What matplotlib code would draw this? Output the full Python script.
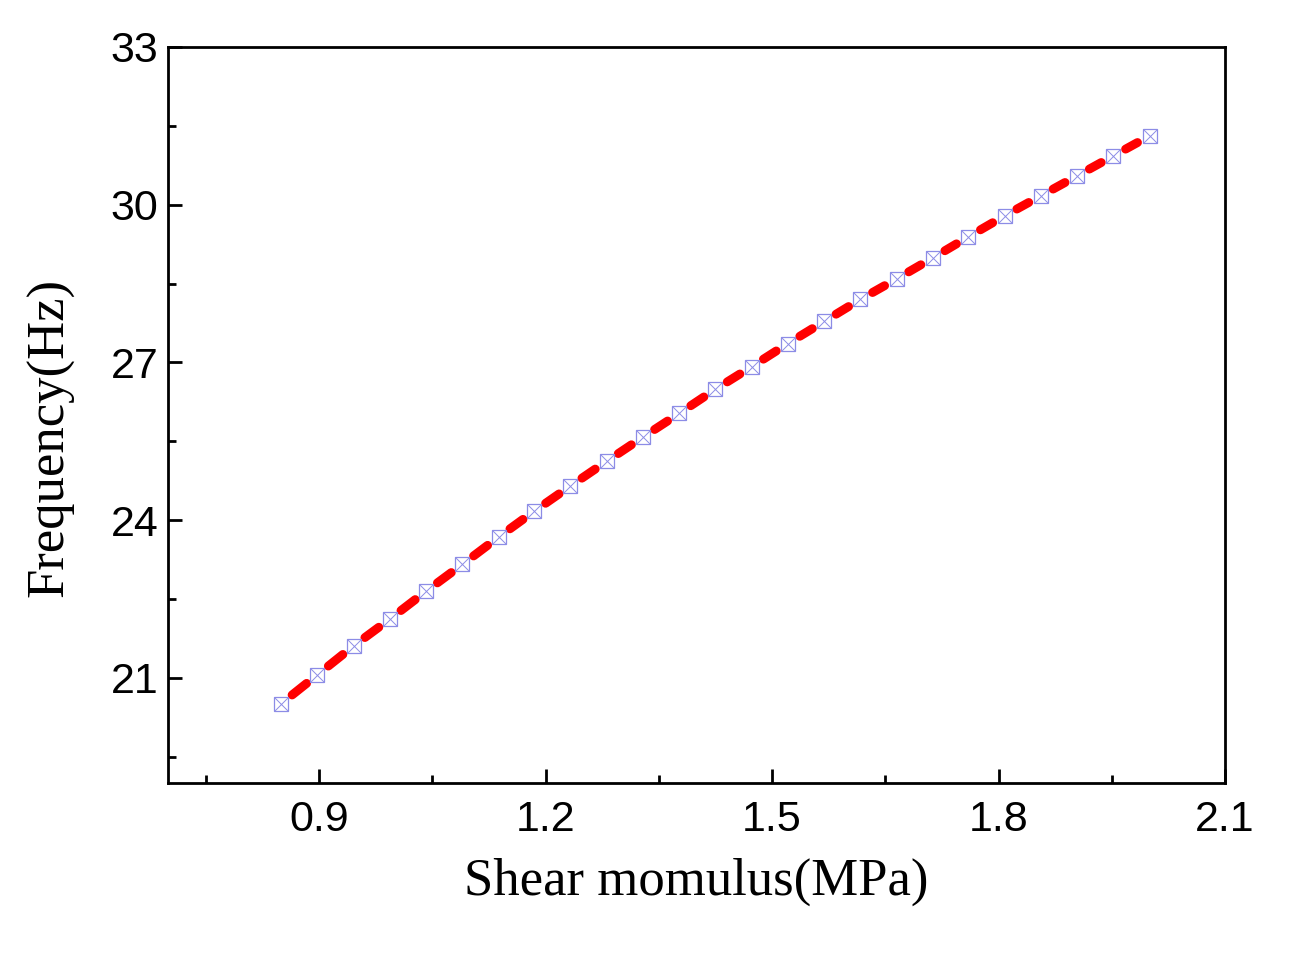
import matplotlib
matplotlib.use('Agg')
import matplotlib.pyplot as plt
from matplotlib.ticker import MultipleLocator

# data
shear_modulus = [0.850, 0.898, 0.946, 0.994, 1.042, 1.090, 1.138, 1.185, 1.233, 1.281,
                 1.329, 1.377, 1.425, 1.473, 1.521, 1.569, 1.617, 1.665, 1.713, 1.760,
                 1.808, 1.856, 1.904, 1.952, 2.000]
frequency = [20.51, 21.06, 21.61, 22.12, 22.65, 23.16, 23.68, 24.17, 24.65, 25.12,
             25.58, 26.03, 26.49, 26.92, 27.36, 27.78, 28.20, 28.59, 28.99, 29.39,
             29.79, 30.17, 30.55, 30.93, 31.31]

fig = plt.figure(figsize=(13.02, 9.71), dpi=100)
ax = fig.add_axes([0.129, 0.1936, 0.812, 0.758])

# red dashed line: one rounded segment between each pair of markers
for i in range(len(shear_modulus) - 1):
    ax.annotate('', xy=(shear_modulus[i + 1], frequency[i + 1]),
                xytext=(shear_modulus[i], frequency[i]),
                arrowprops=dict(arrowstyle='-', color='red', lw=6.4,
                                shrinkA=10, shrinkB=10, capstyle='round'))

mk_color = '#8c8ce6'
ax.plot(shear_modulus, frequency, ls='none', marker='s', ms=9.5, mfc='white',
        mec=mk_color, mew=0.9, zorder=3)
ax.plot(shear_modulus, frequency, ls='none', marker='x', ms=9.5,
        mec=mk_color, mew=0.7, zorder=4)

ax.set_xlim(0.7, 2.1)
ax.set_ylim(19, 33)
ax.xaxis.set_minor_locator(MultipleLocator(0.15))
ax.yaxis.set_minor_locator(MultipleLocator(1.5))
ax.set_xticks([0.9, 1.2, 1.5, 1.8, 2.1])
ax.set_yticks([21, 24, 27, 30, 33])

for s in ax.spines.values():
    s.set_linewidth(2)
ax.tick_params(which='both', direction='in', width=2, top=False, right=False)
ax.tick_params(which='major', length=10)
ax.tick_params(which='minor', length=6)
ax.tick_params(axis='x', which='major', pad=12)
ax.tick_params(axis='y', which='major', pad=7)
for lab in ax.get_xticklabels() + ax.get_yticklabels():
    lab.set_fontfamily('Liberation Sans')
    lab.set_fontsize(31)

ax.set_xlabel('Shear momulus(MPa)', fontfamily='Liberation Serif', fontsize=38, labelpad=13)
ax.set_ylabel('Frequency(Hz)', fontfamily='Liberation Serif', fontsize=38)
ax.yaxis.set_label_coords(-0.088, 0.47)

fig.savefig('out.png', dpi=100)
